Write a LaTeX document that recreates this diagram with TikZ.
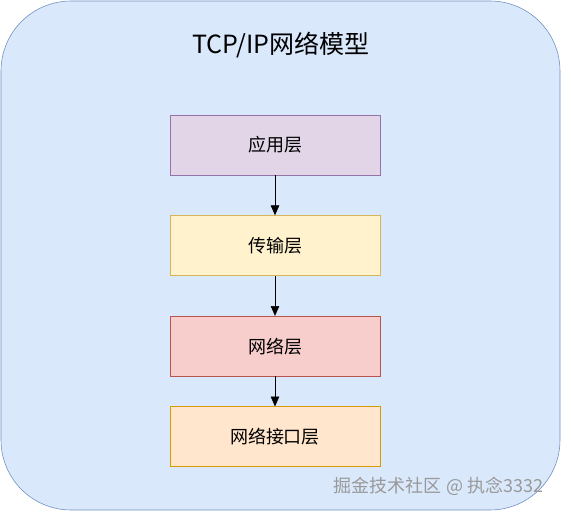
\documentclass[tikz,border=0pt]{standalone}
\usepackage{fontspec}
\setmainfont{Noto Sans CJK SC}
\usetikzlibrary{positioning,arrows.meta}
\definecolor{outerfill}{HTML}{DAE8FC}
\definecolor{outerline}{HTML}{6C8EBF}
\definecolor{appfill}{HTML}{E1D5E7}
\definecolor{appline}{HTML}{9673A6}
\definecolor{tranfill}{HTML}{FFF2CC}
\definecolor{tranline}{HTML}{D6B656}
\definecolor{netfill}{HTML}{F8CECC}
\definecolor{netline}{HTML}{B85450}
\definecolor{linkfill}{HTML}{FFE6CC}
\definecolor{linkline}{HTML}{D79B00}
\begin{document}
\begin{tikzpicture}[
    x=0.025cm, y=-0.025cm,
    node distance=1cm,
    every node/.style={font=\fontsize{12.8pt}{14pt}\selectfont},
    layer/.style={rectangle, draw, minimum width=5.25cm, minimum height=1.5cm, align=center, inner sep=0pt},
    arrow/.style={-{Triangle[length=7pt,width=6pt]}, thin}
]
\useasboundingbox (0,0) rectangle (561,511);

% Outer container
\draw[fill=outerfill, draw=outerline, rounded corners=1.75cm] (1,1) rectangle (560,510);
\node[font=\fontsize{17.8pt}{20pt}\selectfont] (title) at (281,45) {TCP/IP网络模型};

% Layers
\node[layer, fill=appfill, draw=appline] (app) at (275,145) {应用层};
\node[layer, fill=tranfill, draw=tranline, below=of app] (tran) {传输层};
\node[layer, fill=netfill, draw=netline, below=of tran] (net) {网络层};
\node[layer, fill=linkfill, draw=linkline, below=0.75cm of net] (link) {网络接口层};

% Arrows
\draw[arrow] (app) -- (tran);
\draw[arrow] (tran) -- (net);
\draw[arrow] (net) -- (link);

% Watermark
\node[font=\fontsize{12.8pt}{14pt}\selectfont, text=black!40, anchor=east] (mark) at (548,486) {掘金技术社区 @ 执念3332};

\end{tikzpicture}
\end{document}
